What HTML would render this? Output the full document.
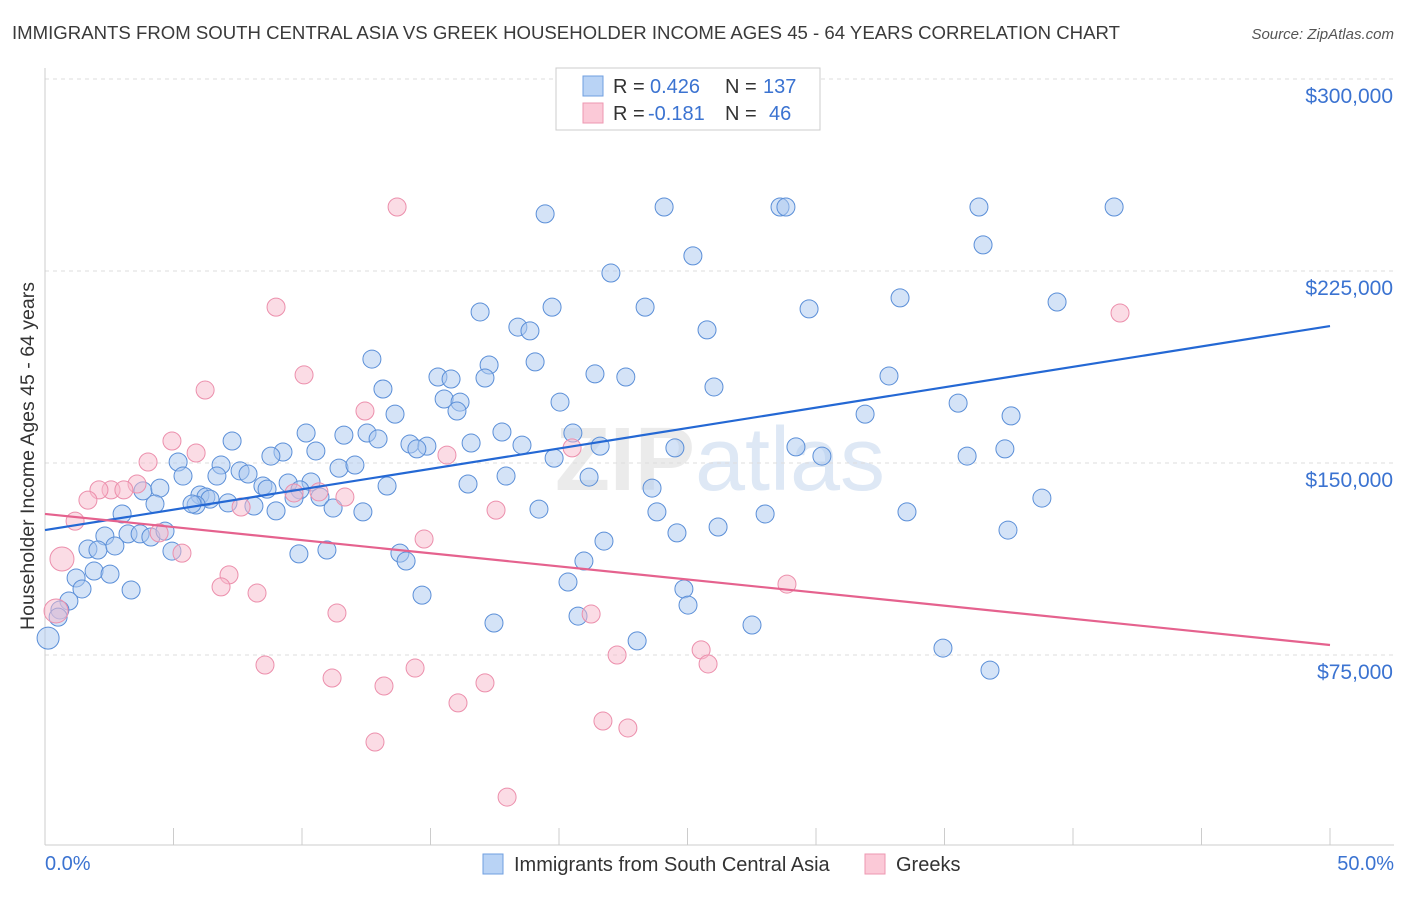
<!DOCTYPE html>
<html><head><meta charset="utf-8"><style>
body{margin:0;background:#fff;font-family:"Liberation Sans",sans-serif;}
svg text{font-family:"Liberation Sans",sans-serif;}
</style></head><body>
<svg id="chart" width="1406" height="892" viewBox="0 0 1406 892" xmlns="http://www.w3.org/2000/svg">
<text x="12" y="39" font-size="18.6" fill="#3a3a3a">IMMIGRANTS FROM SOUTH CENTRAL ASIA VS GREEK HOUSEHOLDER INCOME AGES 45 - 64 YEARS CORRELATION CHART</text>
<text x="1394" y="39" font-size="15" fill="#555" text-anchor="end" font-style="italic">Source: ZipAtlas.com</text>
<text x="720" y="490" font-size="90" fill="#ddd" fill-opacity="0.6" text-anchor="middle" font-weight="bold">ZIP<tspan fill="#c8d8ee" font-weight="normal">atlas</tspan></text>
<g id="grid"></g>
<g id="axes"></g>
<g id="points"></g>
<g id="trends"></g>
<text transform="translate(34,456) rotate(-90)" font-size="19.5" fill="#333" text-anchor="middle">Householder Income Ages 45 - 64 years</text>
<text x="45" y="870" font-size="20" fill="#3b73d1">0.0%</text>
<text x="1394" y="870" font-size="20" fill="#3b73d1" text-anchor="end">50.0%</text>
<g>
<rect x="556" y="68" width="264" height="62" fill="#fff" stroke="#ccc"/>
<rect x="583" y="76" width="20" height="20" fill="#b9d3f5" stroke="#6f9fe0"/>
<rect x="583" y="103" width="20" height="20" fill="#fbc9d7" stroke="#ee97b0"/>
<text x="613" y="93" font-size="20" fill="#333">R =</text>
<text x="650" y="93" font-size="20" fill="#3b73d1">0.426</text>
<text x="725" y="93" font-size="20" fill="#333">N =</text>
<text x="763" y="93" font-size="20" fill="#3b73d1">137</text>
<text x="613" y="120" font-size="20" fill="#333">R =</text>
<text x="648" y="120" font-size="20" fill="#3b73d1">-0.181</text>
<text x="725" y="120" font-size="20" fill="#333">N =</text>
<text x="769" y="120" font-size="20" fill="#3b73d1">46</text>
</g>
<g>
<rect x="483" y="854" width="20" height="20" fill="#b9d3f5" stroke="#6f9fe0"/>
<text x="514" y="871" font-size="20" fill="#333">Immigrants from South Central Asia</text>
<rect x="865" y="854" width="20" height="20" fill="#fbc9d7" stroke="#ee97b0"/>
<text x="896" y="871" font-size="20" fill="#333">Greeks</text>
</g>
</svg>
<script>
const yTicks=[75000,150000,225000,300000];
const yTickLabels=["$75,000","$150,000","$225,000","$300,000"];
const blueX=[19.46,24.09,28.6,28.83,36.34,41.6,36.5,25.21,22.02,33.27,39.38,19.73,23.35,29.73,16.93,18.4,18.87,25.76,12.72,17.28,19.07,15.29,15.8,17.12,21.4,22.6,32.84,26.03,13.15,15.53,16.15,20.04,16.03,35.53,13.62,31.91,37.59,10.16,11.63,12.53,12.96,17.78,16.58,18.56,20.54,14.2,14.86,14.47,21.6,24.51,29.22,37.35,7.28,9.26,8.79,10.54,35.88,19.81,30.23,11.44,12.06,5.18,6.85,7.59,7.9,6.69,5.37,21.17,17.94,16.46,13.31,8.48,8.64,9.46,10.35,9.92,23.62,10.7,3.81,4.47,6.03,6.26,6.42,7.12,4.28,5.88,5.72,8.13,9.69,11.21,8.99,12.37,19.22,23.81,28.02,33.54,38.79,3,3.23,3.7,2.33,4.12,4.67,24.59,26.19,37.47,21.75,4.94,1.67,2.06,2.72,9.88,10.97,13.81,14.05,20.97,1.91,1.21,2.53,1.44,3.35,20.35,24.86,25.02,14.67,0.93,0.58,0.51,20.74,17.47,27.51,23.04,34.94,36.77,0.12];
const blueY=[247.3,250,250,250,250,250,235.2,230.9,224.2,214.5,212.9,210.9,210.9,210.2,209,203.1,201.6,202,190.6,188.3,189.5,183.6,182.8,183.2,184.8,183.6,184,179.7,178.9,175,173.8,173.8,170.3,173.4,169.1,169.1,168.4,161.7,160.9,161.7,159.4,162.1,157.8,157,161.7,157.4,156.6,155.5,156.6,155.9,156.3,155.5,158.6,154.3,152.7,154.7,152.7,151.9,152.7,148,149.2,150.4,149.2,146.9,145.7,144.9,144.9,144.5,144.9,141.8,141,141,139.8,142.2,142.6,139.5,140.2,136.7,139.1,140.2,137.5,136.7,135.9,134.4,134,133.6,134,133.2,136.3,132.4,131.3,130.9,132,130.9,130.1,130.9,136.3,130.1,122.3,122.3,121.5,121.1,123.4,122.7,125,123.8,119.5,115.6,116.4,116,117.6,114.5,116,114.8,111.7,111.7,107.8,105.1,106.6,100.8,100.4,103.5,100.8,94.5,98.4,96.1,92.6,89.8,90.2,87.5,86.7,80.5,77.7,69.1,81.6];
const pinkX=[13.7,8.99,10.08,6.23,12.45,4.94,5.88,4.01,15.64,20.51,3.58,2.57,3.07,2.1,1.67,10.66,11.67,9.69,7.63,1.17,4.44,5.33,14.75,17.55,0.66,7.16,6.85,8.25,11.36,21.25,28.87,0.43,41.83,8.56,11.17,14.4,13.19,17.12,16.07,22.26,25.53,25.8,21.71,22.68,12.84,17.98];
const pinkY=[250,210.9,184.4,178.5,170.3,158.6,153.9,150.4,153.1,155.9,141.8,139.5,139.5,139.5,135.5,138.7,136.7,138.3,132.8,127.3,122.7,114.8,120.3,131.6,112.5,106.3,101.6,99.2,91.4,91,102.7,92.2,208.6,71.1,66,69.9,62.9,64.1,56.3,75,77,71.5,49.2,46.5,41,19.5];
const blueTrend=[123.8,203.5];
const pinkTrend=[130.1,78.9];
const NS="http://www.w3.org/2000/svg";
const X=v=>45+v/50*1285;
const Y=v=>847-v/75000*192;
const Yk=v=>Y(v*1000);
function mk(tag,attrs,parent){const e=document.createElementNS(NS,tag);for(const k in attrs)e.setAttribute(k,attrs[k]);document.getElementById(parent).appendChild(e);return e;}
yTicks.forEach((t,i)=>{
 const l=mk('line',{x1:45,x2:1394,y1:Y(t),y2:Y(t),stroke:'#ddd','stroke-dasharray':'4,4'},'grid');
 
 
 const tx=mk('text',{x:1393,y:Y(t)+24,'font-size':21,fill:'#3b73d1','text-anchor':'end'},'grid');
 tx.textContent=yTickLabels[i];
 
 
});
const ax=mk('line',{x1:45,x2:1394,y1:845,y2:845,stroke:'#ccc'},'axes');


const ay=mk('line',{x1:45,x2:45,y1:68,y2:845,stroke:'#ccc'},'axes');


for(let i=0;i<=10;i++){
 const t=mk('line',{x1:X(i*5),x2:X(i*5),y1:828,y2:845,stroke:'#ccc'},'axes');
 
 
}
blueX.forEach((v,i)=>{
 const c=mk('circle',{cx:X(v),cy:Yk(blueY[i]),r:(v<0.3?11:9),fill:'#a9c8f0','fill-opacity':0.5,stroke:'#5b8fd8','stroke-width':1},'points');
 
 
});
pinkX.forEach((v,i)=>{
 const c=mk('circle',{cx:X(v),cy:Yk(pinkY[i]),r:(v<0.7?12:9),fill:'#f8b9cc','fill-opacity':0.5,stroke:'#ec8fac','stroke-width':1},'points');
 
 
});
const bl=mk('line',{x1:X(0),y1:Yk(blueTrend[0]),x2:X(50),y2:Yk(blueTrend[1]),stroke:'#2468d4','stroke-width':2.2},'trends');


const pl=mk('line',{x1:X(0),y1:Yk(pinkTrend[0]),x2:X(50),y2:Yk(pinkTrend[1]),stroke:'#e5628e','stroke-width':2.2},'trends');


</script>
</body></html>
